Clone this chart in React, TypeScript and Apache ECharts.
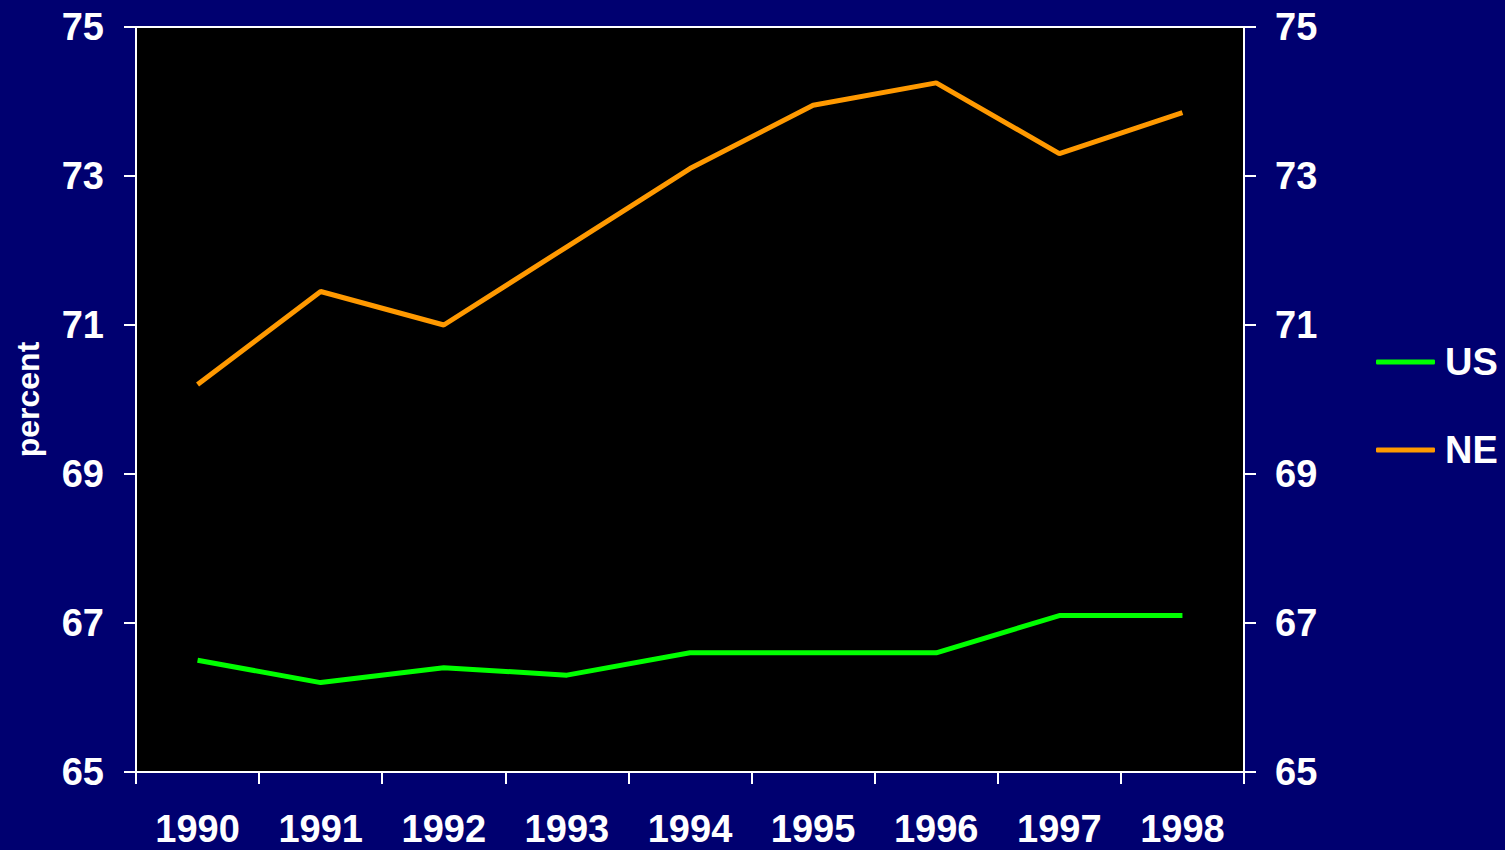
import React, { useEffect, useRef } from "react";
import * as echarts from "echarts";

const years = ["1990", "1991", "1992", "1993", "1994", "1995", "1996", "1997", "1998"];
const usValues = [66.5, 66.2, 66.4, 66.3, 66.6, 66.6, 66.6, 67.1, 67.1];
const neValues = [70.2, 71.45, 71.0, 72.05, 73.1, 73.95, 74.25, 73.3, 73.85];

const FONT = "Liberation Sans, Arial, sans-serif";

export default function App() {
  const ref = useRef<HTMLDivElement>(null);
  useEffect(() => {
    const chart = echarts.init(ref.current!, null, { renderer: "svg" });
    const labelStyle = { color: "#ffffff", fontSize: 38, fontWeight: "bold", fontFamily: FONT };
    const axisLine = { show: true, lineStyle: { color: "#ffffff", width: 2 } };
    const axisTick = { show: true, length: 12, lineStyle: { color: "#ffffff", width: 2 } };
    chart.setOption({
      animation: false,
      backgroundColor: "#000070",
      grid: {
        left: 136,
        right: 261,
        top: 27,
        bottom: 78,
        outerBoundsMode: "none",
        containLabel: false,
        show: true,
        backgroundColor: "#000000",
        borderColor: "#ffffff",
        borderWidth: 2,
      },
      legend: {
        orient: "vertical",
        left: 1376,
        top: 343,
        padding: 0,
        icon: "roundRect",
        itemWidth: 59,
        itemHeight: 5,
        itemGap: 50,
        textStyle: { ...labelStyle, padding: [0, 0, 0, 5] },
        data: ["US", "NE"],
      },
      xAxis: {
        type: "category",
        data: years,
        boundaryGap: true,
        axisLine,
        axisTick: { ...axisTick, alignWithLabel: false },
        axisLabel: { ...labelStyle, margin: 38 },
        splitLine: { show: false },
      },
      yAxis: [
        {
          type: "value",
          min: 65,
          max: 75,
          interval: 2,
          position: "left",
          name: "percent",
          nameLocation: "middle",
          nameGap: 92,
          nameRotate: 90,
          nameTextStyle: { color: "#ffffff", fontSize: 32, fontWeight: "bold", fontFamily: FONT },
          axisLine,
          axisTick,
          axisLabel: { ...labelStyle, margin: 32 },
          splitLine: { show: false },
        },
        {
          type: "value",
          min: 65,
          max: 75,
          interval: 2,
          position: "right",
          axisLine,
          axisTick,
          axisLabel: { ...labelStyle, margin: 31 },
          splitLine: { show: false },
        },
      ],
      series: [
        {
          name: "US",
          type: "line",
          data: usValues,
          symbol: "none",
          color: "#00ff00",
          lineStyle: { color: "#00ff00", width: 5 },
        },
        {
          name: "NE",
          type: "line",
          data: neValues,
          symbol: "none",
          color: "#ff9900",
          lineStyle: { color: "#ff9900", width: 5 },
        },
      ],
    });
    return () => chart.dispose();
  }, []);
  return (
    <div
      ref={ref}
      style={{ position: "fixed", left: 0, top: 0, width: 1505, height: 850 }}
    />
  );
}
